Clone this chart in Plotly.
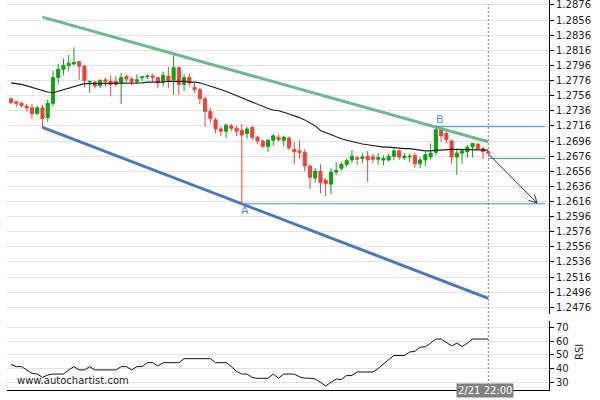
import math
import plotly.graph_objects as go

# ---------------- data ----------------
open_ = [1.2752, 1.2748, 1.2746, 1.2742, 1.2740, 1.2732, 1.2740, 1.2727, 1.2746, 1.2780,
         1.2791, 1.2796, 1.2798, 1.2801, 1.2795, 1.2774, 1.2774, 1.2769, 1.2777, 1.2775,
         1.2775, 1.2774, 1.2781, 1.2778, 1.2775, 1.2780, 1.2781, 1.2782, 1.2780, 1.2775,
         1.2782, 1.2777, 1.2793, 1.2771, 1.2780, 1.2767, 1.2764, 1.2752, 1.2735, 1.2724,
         1.2712, 1.2709, 1.2716, 1.2713, 1.2710, 1.2706, 1.2714, 1.2701, 1.2696, 1.2689,
         1.2697, 1.2701, 1.2697, 1.2700, 1.2685, 1.2683, 1.2681, 1.2663, 1.2647, 1.2656,
         1.2644, 1.2639, 1.2655, 1.2660, 1.2665, 1.2671, 1.2674, 1.2673, 1.2676, 1.2675,
         1.2672, 1.2671, 1.2671, 1.2676, 1.2683, 1.2674, 1.2675, 1.2677, 1.2666, 1.2671,
         1.2675, 1.2681, 1.2711, 1.2706, 1.2696, 1.2675, 1.2680, 1.2682, 1.2688, 1.2692,
         1.2686, 1.2682]
high = [1.2754, 1.2749, 1.2748, 1.2745, 1.2745, 1.2743, 1.2744, 1.2751, 1.2789, 1.2798,
        1.2805, 1.2810, 1.2820, 1.2802, 1.2796, 1.2775, 1.2776, 1.2778, 1.2780, 1.2783,
        1.2782, 1.2786, 1.2784, 1.2781, 1.2784, 1.2782, 1.2784, 1.2785, 1.2780, 1.2788,
        1.2794, 1.2810, 1.2795, 1.2784, 1.2785, 1.2773, 1.2766, 1.2755, 1.2740, 1.2727,
        1.2715, 1.2719, 1.2719, 1.2716, 1.2719, 1.2715, 1.2716, 1.2703, 1.2698, 1.2699,
        1.2705, 1.2705, 1.2703, 1.2702, 1.2694, 1.2697, 1.2685, 1.2665, 1.2660, 1.2665,
        1.2647, 1.2660, 1.2668, 1.2668, 1.2673, 1.2684, 1.2676, 1.2680, 1.2683, 1.2679,
        1.2680, 1.2677, 1.2679, 1.2686, 1.2685, 1.2680, 1.2679, 1.2680, 1.2675, 1.2682,
        1.2693, 1.2714, 1.2713, 1.2710, 1.2698, 1.2685, 1.2685, 1.2691, 1.2693, 1.2693,
        1.2688, 1.2683]
low = [1.2745, 1.2741, 1.2740, 1.2735, 1.2725, 1.2731, 1.2713, 1.2721, 1.2742, 1.2772,
       1.2783, 1.2788, 1.2796, 1.2777, 1.2767, 1.2760, 1.2766, 1.2766, 1.2768, 1.2755,
       1.2768, 1.2745, 1.2774, 1.2770, 1.2772, 1.2776, 1.2778, 1.2774, 1.2766, 1.2768,
       1.2766, 1.2757, 1.2757, 1.2762, 1.2768, 1.2760, 1.2745, 1.2715, 1.2720, 1.2706,
       1.2702, 1.2700, 1.2709, 1.2703, 1.2612, 1.2699, 1.2697, 1.2692, 1.2687, 1.2681,
       1.2690, 1.2695, 1.2689, 1.2684, 1.2665, 1.2673, 1.2656, 1.2633, 1.2641, 1.2627,
       1.2623, 1.2626, 1.2651, 1.2657, 1.2662, 1.2667, 1.2664, 1.2667, 1.2642, 1.2667,
       1.2665, 1.2664, 1.2669, 1.2671, 1.2671, 1.2671, 1.2668, 1.2661, 1.2660, 1.2663,
       1.2671, 1.2677, 1.2695, 1.2693, 1.2666, 1.2651, 1.2666, 1.2674, 1.2674, 1.2684,
       1.2672, 1.2679]
close = [1.2747, 1.2746, 1.2743, 1.2740, 1.2732, 1.2740, 1.2726, 1.2746, 1.2780, 1.2791,
         1.2796, 1.2799, 1.2800, 1.2795, 1.2776, 1.2775, 1.2769, 1.2776, 1.2775, 1.2771,
         1.2771, 1.2780, 1.2778, 1.2775, 1.2777, 1.2781, 1.2782, 1.2780, 1.2773, 1.2783,
         1.2776, 1.2793, 1.2771, 1.2780, 1.2773, 1.2764, 1.2752, 1.2735, 1.2726, 1.2712,
         1.2709, 1.2717, 1.2713, 1.2709, 1.2704, 1.2712, 1.2701, 1.2696, 1.2689, 1.2697,
         1.2703, 1.2698, 1.2701, 1.2687, 1.2682, 1.2681, 1.2663, 1.2648, 1.2656, 1.2641,
         1.2640, 1.2655, 1.2657, 1.2665, 1.2670, 1.2676, 1.2672, 1.2675, 1.2671, 1.2672,
         1.2674, 1.2673, 1.2676, 1.2683, 1.2675, 1.2676, 1.2676, 1.2666, 1.2671, 1.2678,
         1.2680, 1.2711, 1.2703, 1.2698, 1.2675, 1.2680, 1.2683, 1.2688, 1.2693, 1.2686,
         1.2682, 1.2680]
moving_avg = [1.2773, 1.2772, 1.2771, 1.2769, 1.2767, 1.2764, 1.2763, 1.2761, 1.2760, 1.2762,
              1.2765, 1.2767, 1.2769, 1.2771, 1.2772, 1.2772, 1.2772, 1.2772, 1.2772, 1.2772,
              1.2772, 1.2772, 1.2772, 1.2773, 1.2773, 1.2773, 1.2774, 1.2774, 1.2774, 1.2774,
              1.2775, 1.2775, 1.2775, 1.2775, 1.2774, 1.2774, 1.2773, 1.2771, 1.2769, 1.2766,
              1.2764, 1.2762, 1.2759, 1.2756, 1.2753, 1.2751, 1.2748, 1.2745, 1.2742, 1.2739,
              1.2737, 1.2736, 1.2734, 1.2732, 1.2730, 1.2727, 1.2724, 1.2720, 1.2716, 1.2710,
              1.2707, 1.2704, 1.2701, 1.2699, 1.2697, 1.2695, 1.2693, 1.2692, 1.2691, 1.2690,
              1.2689, 1.2688, 1.2688, 1.2687, 1.2687, 1.2686, 1.2686, 1.2685, 1.2684, 1.2683,
              1.2683, 1.2684, 1.2684, 1.2685, 1.2685, 1.2685, 1.2685, 1.2685, 1.2685, 1.2685,
              1.2684, 1.2684]
rsi = [43.0, 41.4, 41.4, 39.0, 36.5, 36.0, 33.6, 35.3, 36.0, 36.0,
       36.0, 39.0, 41.4, 39.0, 39.0, 41.4, 39.0, 39.0, 39.0, 39.0,
       39.0, 41.4, 41.4, 39.0, 41.4, 41.4, 44.3, 44.3, 41.9, 44.3,
       44.3, 44.3, 44.3, 47.2, 47.2, 47.2, 47.2, 47.2, 47.2, 44.3,
       44.3, 44.3, 41.4, 38.0, 36.0, 36.0, 33.5, 32.9, 32.9, 32.9,
       36.0, 33.0, 36.0, 36.0, 36.0, 34.0, 33.0, 33.0, 32.4, 30.0,
       27.3, 30.0, 32.4, 32.0, 35.0, 35.0, 37.5, 37.5, 37.5, 37.5,
       40.0, 43.5, 46.5, 49.5, 49.5, 49.5, 52.0, 52.5, 55.5, 55.9,
       58.5, 61.5, 61.5, 59.0, 56.5, 58.5, 56.0, 58.5, 61.5, 61.5,
       61.5, 61.5]
candle_idx = list(range(len(close)))

# pattern (channel) definition
upper_line_idx = [6, 91]
upper_line_val = [1.2860, 1.2695]
lower_line_idx = [6, 91]
lower_line_val = [1.2714, 1.2488]
point_a = (44, 1.2613)
point_b = (81, 1.2715)
last_level = 1.2673
forecast_start = (91, 1.2679)
forecast_end = (100.3, 1.2614)
level_end_idx = 101.8
date_label = "2/21 22:00"

price_tickvals = [round(1.2476 + 0.002 * k, 4) for k in range(21)]
price_ticktext = ["%.4f" % v for v in price_tickvals]
rsi_tickvals = [30, 40, 50, 60, 70]

# ---------------- figure ----------------
RED = "#e8453c"
GREEN = "#12a012"
BLUE_LVL = "#4c8ae0"
FONT = "DejaVu Sans"

fig = go.Figure()

fig.add_trace(go.Scatter(x=candle_idx, y=moving_avg, mode="lines",
                         line=dict(color="#1e1e1e", width=1.1),
                         xaxis="x", yaxis="y", hoverinfo="skip"))

fig.add_trace(go.Candlestick(
    x=candle_idx, open=open_, high=high, low=low, close=close,
    increasing=dict(line=dict(color=GREEN, width=1), fillcolor=GREEN),
    decreasing=dict(line=dict(color=RED, width=1), fillcolor=RED),
    whiskerwidth=0, xaxis="x", yaxis="y"))

fig.add_trace(go.Scatter(x=upper_line_idx, y=upper_line_val, mode="lines",
                         line=dict(color="#6cb98c", width=3), xaxis="x", yaxis="y"))
fig.add_trace(go.Scatter(x=lower_line_idx, y=lower_line_val, mode="lines",
                         line=dict(color="#4a78b9", width=3), xaxis="x", yaxis="y"))

# horizontal levels
for x0, lvl in [(point_a[0], point_a[1]), (point_b[0], point_b[1]), (forecast_start[0], last_level)]:
    fig.add_trace(go.Scatter(x=[x0, level_end_idx], y=[lvl, lvl], mode="lines",
                             line=dict(color=BLUE_LVL, width=1), xaxis="x", yaxis="y"))

# forecast arrow with open head
px_per_idx = 5.245
px_per_price = 7558.0
dxp = (forecast_end[0] - forecast_start[0]) * px_per_idx
dyp = (forecast_end[1] - forecast_start[1]) * px_per_price
ang = math.atan2(dyp, dxp)
head = 9.0
spread = math.radians(28)
hx, hy = [], []
for s in (spread, -spread):
    a = ang + math.pi + s
    hx.append(forecast_end[0] + head * math.cos(a) / px_per_idx)
    hy.append(forecast_end[1] + head * math.sin(a) / px_per_price)
fig.add_trace(go.Scatter(
    x=[forecast_start[0], forecast_end[0], None, hx[0], forecast_end[0], hx[1]],
    y=[forecast_start[1], forecast_end[1], None, hy[0], forecast_end[1], hy[1]],
    mode="lines", line=dict(color="#333333", width=1), xaxis="x", yaxis="y"))

# RSI
fig.add_trace(go.Scatter(x=candle_idx, y=rsi, mode="lines",
                         line=dict(color="#111111", width=1), xaxis="x2", yaxis="y2"))

H_PLOT = 390.0
fig.update_layout(
    width=600, height=400,
    margin=dict(l=7, r=51, t=0, b=10),
    paper_bgcolor="white", plot_bgcolor="white",
    showlegend=False,
    boxgap=0.15,
    font=dict(family=FONT, size=10, color="#222"),
    xaxis=dict(domain=[0, 1], range=[-0.763, 102.57], anchor="y",
               showgrid=False, showticklabels=False, zeroline=False,
               rangeslider=dict(visible=False), fixedrange=True),
    xaxis2=dict(domain=[0, 1], range=[-0.763, 102.57], anchor="y2",
                showgrid=False, showticklabels=False, zeroline=False,
                showline=True, linecolor="black", linewidth=1, ticks=""),
    yaxis=dict(domain=[76 / H_PLOT, 1], range=[1.24672, 1.28826], side="right",
               anchor="x", tickvals=price_tickvals, ticktext=price_ticktext,
               showline=True, linecolor="black", linewidth=1,
               ticks="outside", ticklen=4, tickcolor="black",
               ticklabeloverflow="allow",
               showgrid=True, gridcolor="#e2e2e2", gridwidth=1, zeroline=False,
               tickfont=dict(family=FONT, size=10, color="#222")),
    yaxis2=dict(domain=[0, 69 / H_PLOT], range=[24.4, 74.6], side="right",
                anchor="x2", tickvals=rsi_tickvals,
                showline=True, linecolor="black", linewidth=1,
                ticks="outside", ticklen=4, tickcolor="black",
                ticklabeloverflow="allow",
                showgrid=True, gridcolor="#e2e2e2", gridwidth=1, zeroline=False,
                tickfont=dict(family=FONT, size=10, color="#222")),
)

# vertical dotted "now" line
fig.add_shape(type="line", xref="x", yref="paper",
              x0=forecast_start[0], x1=forecast_start[0],
              y0=(H_PLOT - 385) / H_PLOT, y1=(H_PLOT - 4) / H_PLOT,
              line=dict(color="#777777", width=1, dash="2px,2px"))

annotations = [
    dict(x=point_a[0], y=point_a[1], xref="x", yref="y", text="A", showarrow=False,
         xshift=3, yshift=-7, font=dict(family=FONT, size=11, color="#5b8ee6")),
    dict(x=point_b[0], y=point_b[1], xref="x", yref="y", text="B", showarrow=False,
         xshift=4, yshift=7, font=dict(family=FONT, size=11, color="#5b8ee6")),
    dict(x=forecast_start[0], y=(H_PLOT - 390.5) / H_PLOT, xref="x", yref="paper",
         text=date_label, showarrow=False, xshift=-3, bgcolor="#808080", borderpad=1,
         xanchor="center", yanchor="middle",
         font=dict(family=FONT, size=10, color="white")),
    dict(x=(15 - 7) / 542, y=(H_PLOT - 380) / H_PLOT, xref="paper", yref="paper",
         text="www.autochartist.com", showarrow=False, xanchor="left", yanchor="middle",
         font=dict(family=FONT, size=10, color="#222")),
    dict(x=(579 - 7) / 542, y=(H_PLOT - 352) / H_PLOT, xref="paper", yref="paper",
         text="RSI", showarrow=False, textangle=-90, xanchor="center", yanchor="middle",
         font=dict(family=FONT, size=10, color="#222")),
]
fig.update_layout(annotations=annotations)

fig.write_html("out.html")
